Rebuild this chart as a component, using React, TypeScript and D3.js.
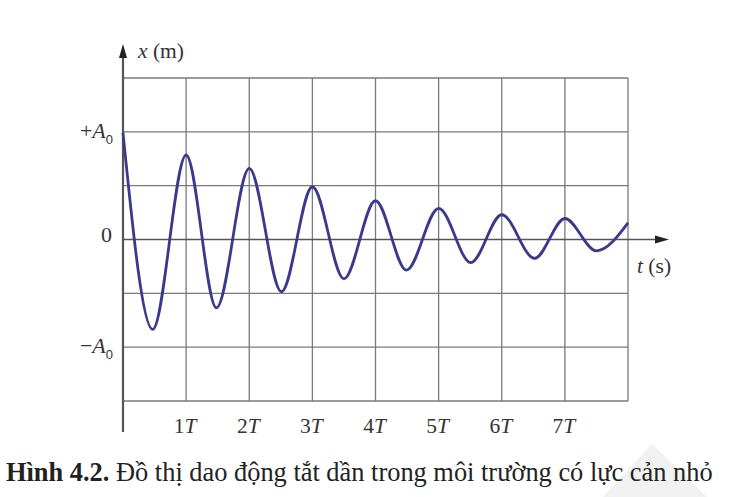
import * as d3 from "d3";
import { useEffect, useRef } from "react";

// readings taken off the figure: peaks at whole periods, troughs in between
const tPoints = [0, 0.47, 1, 1.48, 2, 2.51, 3, 3.5, 4, 4.49, 5, 5.51, 6, 6.52, 7, 7.5, 8];
const xPoints = [0.99, -0.835, 0.785, -0.635, 0.66, -0.485, 0.49, -0.365, 0.36, -0.285, 0.29, -0.215, 0.23, -0.175, 0.195, -0.105, 0.155];

const periodTicks = [1, 2, 3, 4, 5, 6, 7];
const periodLabels = ["1", "2", "3", "4", "5", "6", "7"];
const gridT = [0, 1, 2, 3, 4, 5, 6, 7, 8];
const gridX = [-1.5, -1, -0.5, 0, 0.5, 1, 1.5];
const yLabels = [
  { v: 1, sign: "+" },
  { v: -1, sign: "\u2212" },
];
const caption = "Hình 4.2.";
const captionRest = " Đồ thị dao động tắt dần trong môi trường có lực cản nhỏ";

const App: React.FC = () => {
  const svgRef = useRef<SVGSVGElement | null>(null);

  useEffect(() => {
    const svg = d3.select(svgRef.current);
    svg.selectAll("*").remove();

    const serif = "'Liberation Serif', 'Times New Roman', serif";
    const x = d3.scaleLinear().domain([0, 8]).range([123, 628]);
    const y = d3.scaleLinear().domain([-1.5, 1.5]).range([401, 78]);

    // faint watermark in the corner
    svg.append("polygon")
      .attr("points", "603,497 652,444 707,497")
      .attr("fill", "#f1f1f1");

    // grid
    const g = svg.append("g");
    g.selectAll("line.v")
      .data(gridT.slice(1))
      .join("line")
      .attr("x1", (d) => x(d)).attr("x2", (d) => x(d))
      .attr("y1", y(1.5)).attr("y2", y(-1.5))
      .attr("stroke", "#7a7a7a").attr("stroke-width", 1.3);
    g.selectAll("line.h")
      .data(gridX.filter((d) => d !== 0))
      .join("line")
      .attr("x1", x(0)).attr("x2", x(8))
      .attr("y1", (d) => y(d)).attr("y2", (d) => y(d))
      .attr("stroke", "#7a7a7a").attr("stroke-width", 1.3);

    // axes
    svg.append("line")
      .attr("x1", x(0)).attr("x2", 658)
      .attr("y1", y(0)).attr("y2", y(0))
      .attr("stroke", "#555").attr("stroke-width", 1.5);
    svg.append("path")
      .attr("d", `M669,${y(0)} L655,${y(0) - 4} L655,${y(0) + 4} Z`)
      .attr("fill", "#222");
    svg.append("line")
      .attr("x1", x(0)).attr("x2", x(0))
      .attr("y1", 432).attr("y2", 56)
      .attr("stroke", "#555").attr("stroke-width", 2.2);
    svg.append("path")
      .attr("d", `M${x(0)},44 L${x(0) - 4},58 L${x(0) + 4},58 Z`)
      .attr("fill", "#222");

    // damped oscillation
    const line = d3.line<number>()
      .x((d, i) => x(tPoints[i]))
      .y((d) => y(d))
      .curve(d3.curveMonotoneX);
    svg.append("path")
      .datum(xPoints)
      .attr("fill", "none")
      .attr("stroke", "#3a3a8c")
      .attr("stroke-width", 2.8)
      .attr("stroke-linejoin", "round")
      .attr("d", line);

    const txt = "#333";

    // axis titles
    const xt = svg.append("text")
      .attr("x", 138).attr("y", 58)
      .style("font-family", serif).attr("font-size", 21.5).attr("fill", txt);
    xt.append("tspan").attr("font-style", "italic").text("x");
    xt.append("tspan").text(" (m)");

    const tt = svg.append("text")
      .attr("x", 637).attr("y", 273)
      .style("font-family", serif).attr("font-size", 21.5).attr("fill", txt);
    tt.append("tspan").attr("font-style", "italic").text("t");
    tt.append("tspan").text(" (s)");

    // y labels
    yLabels.forEach((l) => {
      const t = svg.append("text")
        .attr("x", 113).attr("y", y(l.v) + 6)
        .attr("text-anchor", "end")
        .style("font-family", serif).attr("font-size", 22).attr("fill", txt);
      t.append("tspan").text(l.sign);
      t.append("tspan").attr("font-style", "italic").text("A");
      t.append("tspan")
        .style("font-family", "'Liberation Sans', Arial, sans-serif")
        .attr("font-size", 13).attr("dy", 6).text("0");
    });
    svg.append("text")
      .attr("x", 112).attr("y", y(0) + 2)
      .attr("text-anchor", "end")
      .style("font-family", serif).attr("font-size", 22).attr("fill", txt)
      .text("0");

    // period ticks
    periodTicks.forEach((p, i) => {
      const t = svg.append("text")
        .attr("x", x(p) - 1).attr("y", 433)
        .attr("text-anchor", "middle")
        .style("font-family", serif).attr("font-size", 21.5).attr("fill", txt);
      t.append("tspan").text(periodLabels[i]);
      t.append("tspan").attr("font-style", "italic").text("T");
    });

    // caption
    const c = svg.append("text")
      .attr("x", 6).attr("y", 481)
      .style("font-family", serif).attr("font-size", 26.4).attr("fill", "#222");
    c.append("tspan").style("font-family", serif).attr("font-weight", "bold").text(caption);
    c.append("tspan").style("font-family", serif).text(captionRest);
  }, []);

  return (
    <svg
      ref={svgRef}
      width={738}
      height={497}
      style={{ position: "absolute", left: 0, top: 0, background: "#fff" }}
    />
  );
};

export default App;
